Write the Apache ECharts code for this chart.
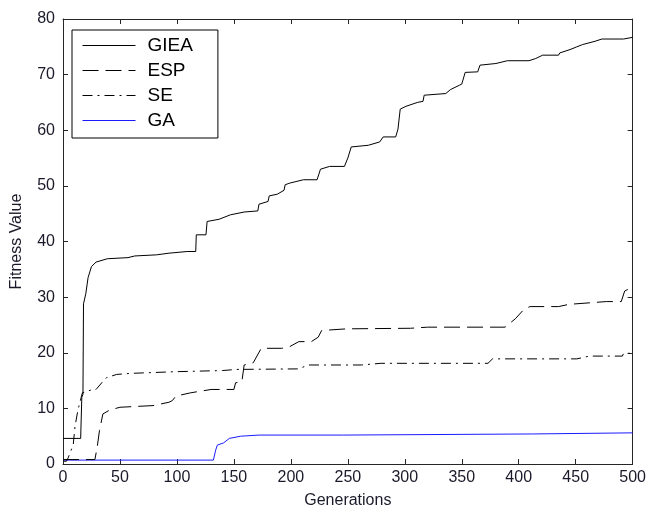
<!DOCTYPE html>
<html>
<head>
<meta charset="utf-8">
<script src="https://cdn.jsdelivr.net/npm/echarts@6/dist/echarts.min.js"></script>
<style>
  html, body { margin: 0; padding: 0; background: #fff; }
  #chart { width: 649px; height: 514px; }
</style>
</head>
<body>
<div id="chart"></div>
<script>
// generation / fitness pairs
const giea = [
  [0, 4.6], [15.5, 4.6], [16.5, 12], [17.5, 12.5], [18, 28.8], [20, 30.6], [22, 33.5], [25, 35.5],
  [29, 36.3], [39, 36.9], [57, 37.1], [63, 37.4], [82, 37.6], [93, 37.9], [109, 38.2], [116.5, 38.2],
  [117, 41.2], [125.5, 41.2], [126.5, 43.6], [137, 44.0], [147, 44.8], [159, 45.3], [171, 45.5],
  [172, 46.7], [180, 47.2], [181, 48.2], [188, 48.5], [189, 48.8], [194, 49.2], [195, 50.2],
  [199, 50.5], [200, 50.8], [211, 51.1], [223, 51.1], [226, 53.0], [234, 53.5], [247, 53.5],
  [250, 55], [253, 57.0], [268, 57.3], [278, 57.9], [281, 58.8], [292, 58.8], [294, 60.2],
  [296, 63.8], [301, 64.3], [311, 65], [316, 65.2], [317, 66.3], [336, 66.6], [340, 67.3],
  [348, 68.1], [350, 68.3], [353, 70.4], [364, 70.5], [366, 71.7], [380, 72.0], [390, 72.5],
  [409, 72.5], [415, 72.9], [421, 73.5], [435, 73.5], [436, 73.9], [445, 74.5], [451, 75],
  [456, 75.4], [467, 76], [473, 76.4], [492, 76.4], [493, 76.7], [500, 76.7]
];
const esp = [
  [0, 0.8], [28, 0.8], [30, 3], [32, 6], [35, 9], [41, 9.7], [50, 10.2], [79, 10.5], [93, 11.1],
  [96, 11.4], [99, 12.2], [112, 12.8], [130, 13.4], [150, 13.4], [151.5, 14.6], [157, 14.8],
  [159, 17.8], [167, 18.2], [174, 20.8], [192, 20.8], [199, 21.1], [207, 22], [218, 22],
  [224, 22.8], [227, 24], [249, 24.3], [305, 24.4], [320, 24.6], [388, 24.6], [397, 26.1],
  [405, 27.9], [410, 28.3], [435, 28.3], [444, 28.7], [477, 29.2], [490, 29.2], [493, 31.1],
  [496, 31.4], [500, 31.4]
];
const se = [
  [0, 0.5], [3, 0.5], [4.5, 1.1], [9, 3.5], [10.5, 6.7], [13, 9.6], [16, 12], [17, 12.8],
  [26, 13.4], [29, 13.4], [34, 14.6], [38, 15.5], [47, 16.1], [60, 16.3], [100, 16.6],
  [140, 16.8], [152, 17.0], [207, 17.1], [215, 17.8], [262, 17.8], [279, 18.1], [373, 18.1],
  [377, 18.9], [451, 18.9], [462, 19.4], [491, 19.4], [492, 19.9], [500, 19.9]
];
const ga = [
  [0, 0.7], [132, 0.7], [134, 2.5], [135.5, 3.4], [141, 3.8], [146, 4.6], [156, 5.0],
  [172, 5.2], [246, 5.2], [247, 5.4], [412, 5.4], [413, 5.6], [500, 5.6]
];
const seriesNames = ["GIEA", "ESP", "SE", "GA"];

const font = "Liberation Sans";
const frame = "#262626";

var myChart = echarts.init(document.getElementById("chart"));

// MATLAB style box: every side gets inward ticks
function axisSide(pos, isX, labels) {
  const base = {
    type: "value",
    position: pos,
    min: 0,
    max: isX ? 500 : 80,
    interval: isX ? 50 : 10,
    splitLine: { show: false },
    axisLine: { show: true, onZero: false, lineStyle: { color: frame, width: 1 } },
    axisTick: { show: true, inside: true, length: 5, lineStyle: { color: frame } },
    axisLabel: {
      show: labels,
      color: "#1a1a2a",
      fontFamily: font,
      fontSize: 16,
      margin: isX ? 6 : 8,
    },
  };
  return base;
}

const xBottom = axisSide("bottom", true, true);
xBottom.name = "Generations";
xBottom.nameLocation = "middle";
xBottom.nameGap = 29;
xBottom.nameTextStyle = { color: "#1a1a2a", fontFamily: font, fontSize: 16 };

const yLeft = axisSide("left", false, true);
yLeft.name = "Fitness Value";
yLeft.nameLocation = "middle";
yLeft.nameGap = 38;
yLeft.nameTextStyle = { color: "#1a1a2a", fontFamily: font, fontSize: 16 };

const dashes = [null, [16, 7], [10, 5, 2, 5], null];
const colors = ["#000", "#000", "#000", "#1a1aff"];
const datas = [giea, esp, se, ga];

myChart.setOption({
  animation: false,
  backgroundColor: "#fff",
  grid: { left: 63, right: 13, top: 19, bottom: 43.5 },
  xAxis: [xBottom, axisSide("top", true, false)],
  yAxis: [yLeft, axisSide("right", false, false)],
  legend: {
    orient: "vertical",
    left: 72,
    top: 30,
    padding: [6, 25, 8, 10],
    itemGap: 6,
    itemWidth: 53,
    itemHeight: 14,
    borderColor: "#000",
    borderWidth: 1,
    backgroundColor: "#fff",
    itemStyle: { opacity: 0 },
    lineStyle: { width: 1 },
    textStyle: { fontFamily: font, fontSize: 19, lineHeight: 19, color: "#000", padding: [0, 0, 0, 7] },
    data: seriesNames,
  },
  series: seriesNames.map(function (n, i) {
    return {
      name: n,
      type: "line",
      data: datas[i],
      symbol: "none",
      color: colors[i],
      lineStyle: { color: colors[i], width: 1, type: dashes[i] || "solid" },
      z: 4 - i,
    };
  }),
});
</script>
</body>
</html>
